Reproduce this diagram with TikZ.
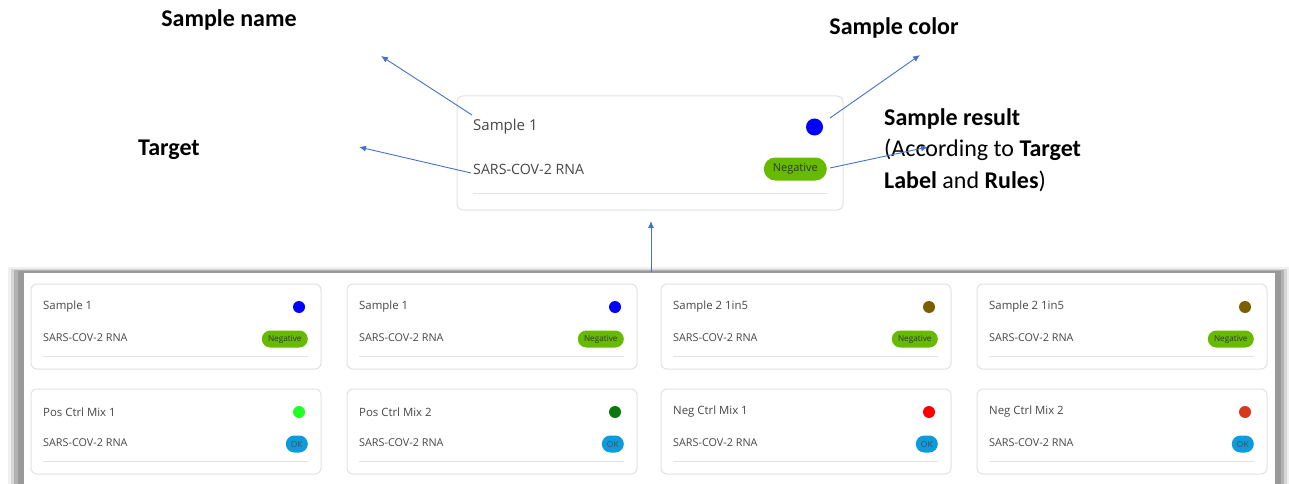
\documentclass[tikz,border=0pt]{standalone}
\usepackage{fontspec}
\setmainfont{Carlito}
\newfontfamily\uifont{Open Sans}
\usetikzlibrary{arrows.meta}
\definecolor{arrowblue}{HTML}{4472C4}
\definecolor{cardline}{HTML}{E2E2E2}
\definecolor{uitext}{HTML}{474747}
\definecolor{badgegreen}{HTML}{66BB00}
\definecolor{badgeblue}{HTML}{0C9BDB}
\definecolor{dotblue}{HTML}{0000FF}
\definecolor{dotbrown}{HTML}{7A5E00}
\definecolor{dotlime}{HTML}{22FF22}
\definecolor{dotgreen}{HTML}{0A780A}
\definecolor{dotred}{HTML}{FF0000}
\definecolor{dotrust}{HTML}{D8391E}
\begin{document}
\begin{tikzpicture}[
      x=1pt, y=-1pt,
      cw/.store in=\CW, cw=290,          % card width
      ch/.store in=\CH, ch=85,           % card height
      card/.style={draw=cardline, line width=1pt, rounded corners=6pt, fill=white},
      sepline/.style={draw=cardline, line width=0.8pt},
      label/.style={font=\fontsize{24}{31}\selectfont\bfseries, text=black, inner sep=0pt},
      sname/.style={font=\uifont\fontsize{11.4}{13}\selectfont, text=uitext, inner sep=0pt, anchor=west},
      starget/.style={font=\uifont\fontsize{10.8}{12}\selectfont, text=uitext, inner sep=0pt, anchor=west},
      negbadge/.style={fill=badgegreen, rounded corners=8.5pt, minimum width=46pt, minimum height=17pt,
        inner sep=0pt, font=\uifont\fontsize{8.2}{9}\selectfont, text=black!80},
      okbadge/.style={fill=badgeblue, rounded corners=8.5pt, minimum width=22pt, minimum height=17pt,
        inner sep=0pt, font=\uifont\fontsize{8.4}{9}\selectfont, text=black!70},
      pointer/.style={draw=arrowblue, line width=0.9pt, -{Latex[length=7pt,width=6pt]}},
    ]
    \useasboundingbox (0,0) rectangle (1289,484);

    % Helper macro: \scard{id}{x}{y}{name}{dot color}{badge style}{badge text}
    \newcommand{\scard}[7]{%
      \draw[card] (#2,#3) rectangle ++(\CW,\CH);
      \node[sname] (#1name) at (#2+12,#3+23) {#4};
      \fill[#5] (#2+268,#3+23) circle (6);
      \node[starget] (#1tgt) at (#2+12,#3+54) {SARS-COV-2 RNA};
      \node[#6, anchor=east] (#1res) at (#2+277,#3+55) {#7};
      \draw[sepline] (#2+12,#3+72) -- (#2+277,#3+72);
    }

    % Panel with drop shadow
    \fill[black!6]  (8,267) rectangle (1289,490);
    \fill[black!16] (11,269) rectangle (1287,490);
    \fill[black!30] (14,270) rectangle (1284,490);
    \fill[black!40] (18,271) rectangle (1281,490);
    \fill[white] (24,273) rectangle (1275,490);

    % Row 1: samples
    \scard{a}{31}{284}{Sample 1}{dotblue}{negbadge}{Negative}
    \scard{b}{347}{284}{Sample 1}{dotblue}{negbadge}{Negative}
    \scard{c}{661}{284}{Sample 2 1in5}{dotbrown}{negbadge}{Negative}
    \scard{d}{977}{284}{Sample 2 1in5}{dotbrown}{negbadge}{Negative}

    % Row 2: controls
    \scard{e}{31}{389}{Pos Ctrl Mix 1}{dotlime}{okbadge}{OK}
    \scard{f}{347}{389}{Pos Ctrl Mix 2}{dotgreen}{okbadge}{OK}
    \scard{g}{661}{389}{Neg Ctrl Mix 1}{dotred}{okbadge}{OK}
    \scard{h}{977}{389}{Neg Ctrl Mix 2}{dotrust}{okbadge}{OK}

    % Enlarged card
    \draw[card] (457,96) rectangle (843,210);
    \node[sname, font=\uifont\fontsize{15}{17}\selectfont] (bigname) at (473,127) {Sample 1};
    \fill[dotblue] (814.5,127) circle (8.5);
    \node[starget, font=\uifont\fontsize{14.2}{16}\selectfont] (bigtgt) at (473,169) {SARS-COV-2 RNA};
    \node[negbadge, anchor=east, minimum width=63pt, minimum height=23pt, rounded corners=11.5pt,
      font=\uifont\fontsize{11}{12}\selectfont] (bigres) at (827,169) {Negative};
    \draw[sepline] (473,193) -- (827,193);

    % Labels
    \node[label] (lname) at (229,20) {Sample name};
    \node[label] (ltarget) at (169,150) {Target};
    \node[label] (lcolor) at (894,28) {Sample color};
    \node[label, anchor=west, align=left, font=\fontsize{24}{31.5}\selectfont] (lresult) at (884,150)
      {\textbf{Sample result}\\(According to \textbf{Target}\\\textbf{Label} and \textbf{Rules})};

    % Pointers
    \coordinate (pname) at (472,115);
    \coordinate (ptarget) at (471,173);
    \coordinate (pcolor) at (830,118);
    \coordinate (presult) at (830,168);
    \coordinate (tname) at (381,56);
    \coordinate (ttarget) at (359,147);
    \coordinate (tcolor) at (920,55);
    \coordinate (tresult) at (928,147);
    \coordinate (panel) at (651,272);
    \coordinate (tcard) at (651,221);
    \draw[pointer] (pname) -- (tname);
    \draw[pointer] (ptarget) -- (ttarget);
    \draw[pointer] (pcolor) -- (tcolor);
    \draw[pointer] (presult) -- (tresult);
    \draw[pointer] (panel) -- (tcard);
  \end{tikzpicture}
\end{document}
